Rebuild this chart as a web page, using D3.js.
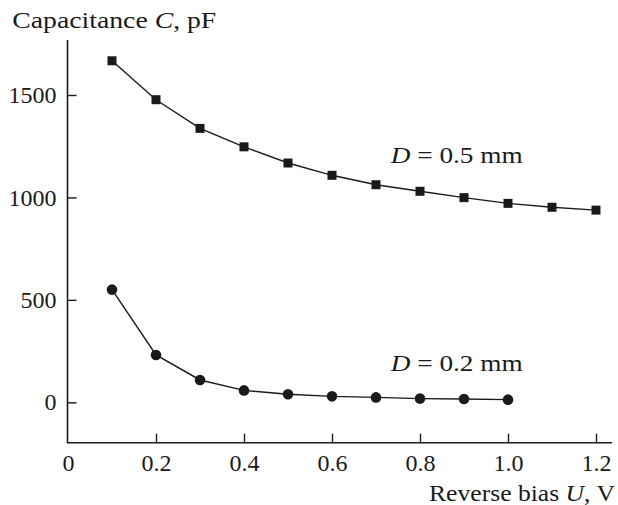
<!DOCTYPE html>
<html><head><meta charset="utf-8">
<script src="https://cdn.jsdelivr.net/npm/d3@7"></script>
<style>body{margin:0;background:#fff}svg{display:block}text{font-family:"Liberation Serif","Times New Roman",serif;fill:#1a1a1a}</style>
</head><body><svg id="c" width="618" height="505"></svg>
<script>
const biasBig = [0.1,0.2,0.3,0.4,0.5,0.6,0.7,0.8,0.9,1.0,1.1,1.2];
const capBig = [1667,1477,1337,1247,1168,1108,1062,1030,999,971,952,938];
const biasSmall = [0.1,0.2,0.3,0.4,0.5,0.6,0.7,0.8,0.9,1.0];
const capSmall = [550,231,109,58,39,29,24,18,16,13];
const xTicks = [0,0.2,0.4,0.6,0.8,1.0,1.2];
const yTicks = [0,500,1000,1500];

const svg = d3.select("#c");
const x = d3.scaleLinear().domain([0,1.2]).range([68,596]);
const y = d3.scaleLinear().domain([0,1500]).range([402.3,95]);
const ink = "#1a1a1a";
const fs = 24;

// axes
svg.append("line").attr("x1",67.5).attr("x2",67.5).attr("y1",40).attr("y2",443).attr("stroke",ink).attr("stroke-width",1.6);
svg.append("line").attr("x1",67).attr("x2",612).attr("y1",442.7).attr("y2",442.7).attr("stroke",ink).attr("stroke-width",1.6);

const xa = d3.axisBottom(x).tickValues(xTicks).tickSize(-9).tickPadding(0)
  .tickFormat(d => d===0 ? "0" : d3.format(".1f")(d));
const gx = svg.append("g").attr("transform","translate(0,442.7)").call(xa);
gx.select(".domain").remove();
gx.selectAll(".tick line").attr("stroke",ink).attr("stroke-width",1.4);
gx.selectAll(".tick text").attr("font-size",fs).attr("fill",ink).attr("y",28.3).attr("dy",0);
gx.selectAll(".tick").filter(d=>d===0).select("line").remove();

const ya = d3.axisLeft(y).tickValues(yTicks).tickSize(-9).tickPadding(11).tickFormat(d3.format("d"));
const gy = svg.append("g").attr("transform","translate(67.5,0)").call(ya);
gy.select(".domain").remove();
gy.selectAll(".tick line").attr("stroke",ink).attr("stroke-width",1.4);
gy.selectAll(".tick text").attr("font-size",fs).attr("fill",ink);

// lines
const big = biasBig.map((b,i)=>({b, c:capBig[i]}));
const small = biasSmall.map((b,i)=>({b, c:capSmall[i]}));
const line = d3.line().x(d=>x(d.b)).y(d=>y(d.c));
svg.append("path").attr("d",line(big)).attr("fill","none").attr("stroke",ink).attr("stroke-width",1.4);
svg.append("path").attr("d",line(small)).attr("fill","none").attr("stroke",ink).attr("stroke-width",1.4);

const s = 9;
svg.selectAll("rect.m").data(big).join("rect").attr("class","m")
  .attr("x",d=>x(d.b)-s/2).attr("y",d=>y(d.c)-s/2).attr("width",s).attr("height",s).attr("fill",ink);
svg.selectAll("circle.m").data(small).join("circle").attr("class","m")
  .attr("cx",d=>x(d.b)).attr("cy",d=>y(d.c)).attr("r",5.3).attr("fill",ink);

// labels
function rich(xp, yp, parts, width){
  const t = svg.append("text").attr("x",xp).attr("y",yp).attr("font-size",fs)
    .attr("textLength",width).attr("lengthAdjust","spacingAndGlyphs");
  parts.forEach(p=>{ const ts=t.append("tspan").text(p[0]); if(p[1]) ts.attr("font-style","italic"); });
  return t;
}
rich(12.3, 28.3, [["Capacitance "],["C",1],[", pF"]], 204);
rich(429, 500.5, [["Reverse bias "],["U",1],[", V"]], 186);
rich(390.7, 163.3, [["D",1],[" = 0.5 mm"]], 132);
rich(390.7, 370.7, [["D",1],[" = 0.2 mm"]], 132);
</script></body></html>
